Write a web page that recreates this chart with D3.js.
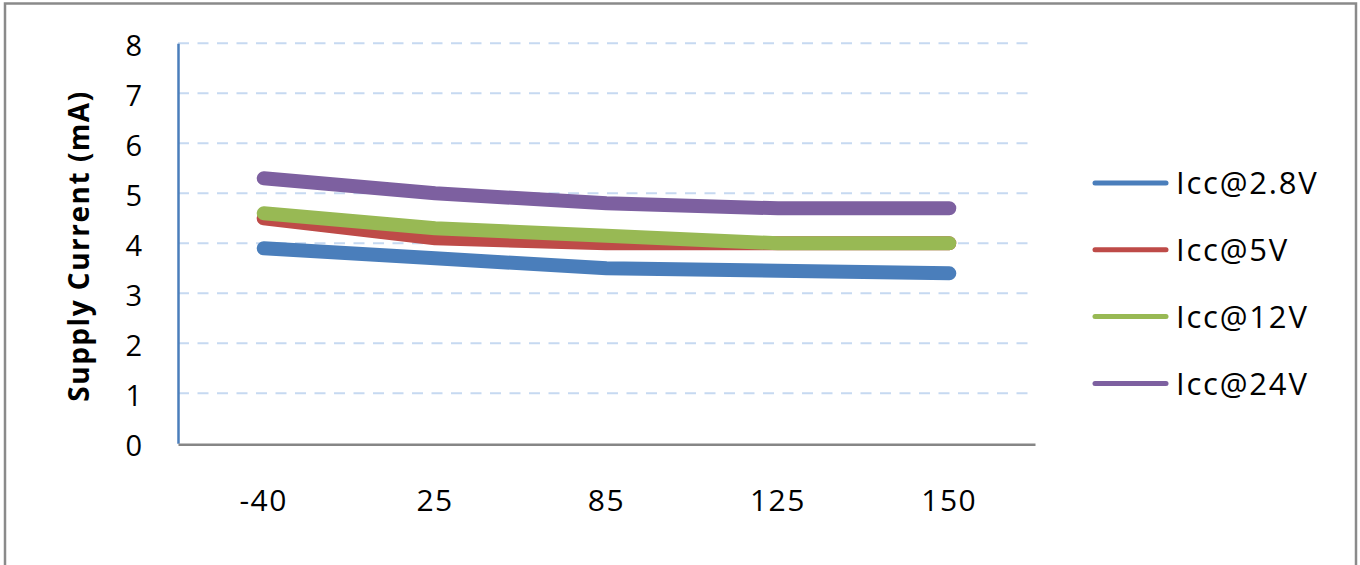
<!DOCTYPE html>
<html><head><meta charset="utf-8">
<script src="https://cdn.jsdelivr.net/npm/d3@7"></script>
<style>html,body{margin:0;padding:0;background:#fff;}svg{display:block;}</style>
</head><body>
<svg id="c" width="1360" height="565"></svg>
<script>
const categories = ["-40", "25", "85", "125", "150"];
const seriesNames = ["Icc@2.8V", "Icc@5V", "Icc@12V", "Icc@24V"];
const icc28 = [3.9, 3.7, 3.5, 3.45, 3.4];
const icc5  = [4.5, 4.1, 4.0, 4.0, 4.0];
const icc12 = [4.6, 4.3, 4.15, 4.0, 4.0];
const icc24 = [5.3, 5.0, 4.8, 4.7, 4.7];
const yTicks = [0, 1, 2, 3, 4, 5, 6, 7, 8];
const colors = ["#4a7ebb", "#be4b48", "#98b954", "#7d60a0"];
const seriesValues = [icc28, icc5, icc12, icc24];

const svg = d3.select("#c");
const font = "'Open Sans', sans-serif";

// outer border
svg.append("rect").attr("x", 5).attr("y", 3.5).attr("width", 1351).attr("height", 600)
  .attr("fill", "#fff").attr("stroke", "#8a8a8a").attr("stroke-width", 2.5);

const L = 178, R = 1035, T = 43.3, B = 443.3;
const x = d3.scaleBand().domain(categories).range([L, R]);
const y = d3.scaleLinear().domain([0, 8]).range([B, T]);

// gridlines
svg.append("g").selectAll("line").data(yTicks.filter(d => d > 0)).join("line")
  .attr("x1", L).attr("x2", 1033)
  .attr("y1", d => y(d)).attr("y2", d => y(d))
  .attr("stroke", "#c6d9f1").attr("stroke-width", 2)
  .attr("stroke-dasharray", "11,8.5");

// y axis
const yAxis = d3.axisLeft(y).tickValues(yTicks).tickSize(0).tickPadding(36);
const gy = svg.append("g").attr("transform", `translate(${L},0)`).call(yAxis);
gy.select(".domain").attr("stroke", "#4a7ebb").attr("stroke-width", 2.5);
gy.selectAll("text").attr("font-family", font).attr("font-size", 29).attr("fill", "#000")
  .attr("dy", "0.42em");

// x axis
const xAxis = d3.axisBottom(x).tickSize(0).tickPadding(45);
const gx = svg.append("g").attr("transform", `translate(0,${B + 1})`).call(xAxis);
gx.select(".domain").attr("stroke", "#868686").attr("stroke-width", 2.5);
gx.selectAll("text").attr("font-family", font).attr("font-size", 30).attr("fill", "#000")
  .attr("letter-spacing", 1.5);

// y-axis title
svg.append("text").attr("transform", `translate(89,246) rotate(-90)`)
  .attr("text-anchor", "middle").attr("font-family", font).attr("font-weight", "bold")
  .attr("font-size", 28).attr("letter-spacing", 1.5).attr("fill", "#000").text("Supply Current (mA)");

// lines
const line = d3.line().x((d, i) => x(categories[i]) + x.bandwidth() / 2).y(d => y(d));
svg.append("g").selectAll("path").data(seriesValues).join("path")
  .attr("d", d => line(d))
  .attr("fill", "none")
  .attr("stroke", (d, i) => colors[i])
  .attr("stroke-width", 14)
  .attr("stroke-linecap", "round")
  .attr("stroke-linejoin", "round");

// legend
const lg = svg.append("g").selectAll("g").data(seriesNames).join("g")
  .attr("transform", (d, i) => `translate(0,${183 + i * 66.8})`);
lg.append("line").attr("x1", 1095).attr("x2", 1166).attr("y1", 0).attr("y2", 0)
  .attr("stroke", (d, i) => colors[i]).attr("stroke-width", 5).attr("stroke-linecap", "round");
lg.append("text").attr("x", 1176).attr("y", 0).attr("dy", "0.36em")
  .attr("font-family", font).attr("font-size", 31).attr("fill", "#000")
  .attr("letter-spacing", 1.8).text(d => d);
</script>
</body></html>
